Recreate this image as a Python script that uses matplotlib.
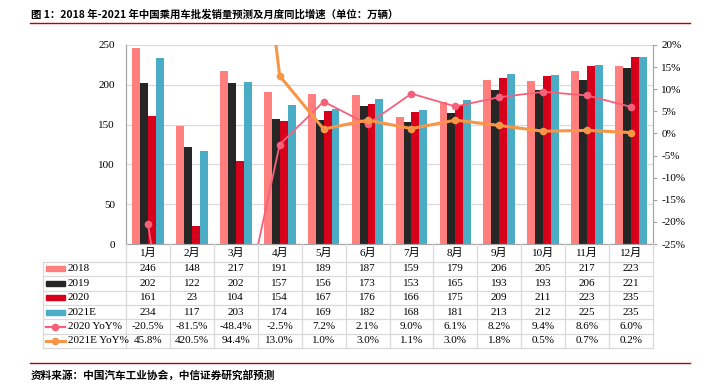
import matplotlib
matplotlib.use("Agg")
import matplotlib.pyplot as plt
import matplotlib.transforms as mtransforms
from matplotlib.lines import Line2D
from matplotlib.patches import Rectangle
import numpy as np

months = ["1月", "2月", "3月", "4月", "5月", "6月", "7月", "8月", "9月", "10月", "11月", "12月"]
sales_2018 = [246, 148, 217, 191, 189, 187, 159, 179, 206, 205, 217, 223]
sales_2019 = [202, 122, 202, 157, 156, 173, 153, 165, 193, 193, 206, 221]
sales_2020 = [161, 23, 104, 154, 167, 176, 166, 175, 209, 211, 223, 235]
sales_2021e = [234, 117, 203, 174, 169, 182, 168, 181, 213, 212, 225, 235]
yoy_2020 = [-20.5, -81.5, -48.4, -2.5, 7.2, 2.1, 9.0, 6.1, 8.2, 9.4, 8.6, 6.0]
yoy_2021e = [45.8, 420.5, 94.4, 13.0, 1.0, 3.0, 1.1, 3.0, 1.8, 0.5, 0.7, 0.2]

bar_names = ["2018", "2019", "2020", "2021E"]
bar_colors = ["#FF7F7F", "#262626", "#D7001B", "#4BACC6"]
line_names = ["2020 YoY%", "2021E YoY%"]
line_colors = ["#F8607A", "#F79646"]

W, H = 721, 387
fig = plt.figure(figsize=(W / 100, H / 100), dpi=100)

def fy(y):
    return 1 - y / H

def fx(x):
    return x / W

serif = ["Liberation Serif", "Noto Sans CJK SC"]
cjk = ["Noto Sans CJK SC", "DejaVu Sans"]

ax = fig.add_axes([fx(126), fy(244), fx(653) - fx(126), fy(45) - fy(244)])
x = np.arange(len(months))
bw = 0.18
all_bars = [sales_2018, sales_2019, sales_2020, sales_2021e]
for i, (vals, c) in enumerate(zip(all_bars, bar_colors)):
    ax.bar(x + (i - 1.5) * bw, vals, bw, color=c, zorder=2)

ax.set_xlim(-0.5, 11.5)
ax.set_ylim(0, 250)
ax.set_yticks(range(0, 251, 50))
ax.set_yticklabels([str(v) for v in range(0, 251, 50)], family=serif, fontsize=8)
ax.tick_params(axis="y", length=0, pad=8)
ax.set_xticks([])
ax.grid(axis="y", color="#D9D9D9", lw=0.8, zorder=0)
ax.spines["top"].set_visible(False)
for s in ["left", "bottom", "right"]:
    ax.spines[s].set_color("#A6A6A6")
    ax.spines[s].set_linewidth(0.8)

ax2 = ax.twinx()
ax2.plot(x, yoy_2020, color=line_colors[0], lw=1.3, marker="o", ms=4.5, zorder=3)
ax2.plot(x, yoy_2021e, color=line_colors[1], lw=2.2, marker="o", ms=4.5, zorder=4)
ax2.set_ylim(-25, 20)
ax2.set_yticks(range(-25, 21, 5))
ax2.set_yticklabels([f"{v}%" for v in range(-25, 21, 5)], family=serif, fontsize=8)
ax2.tick_params(axis="y", length=3, color="#A6A6A6", pad=3)
ax2.spines["top"].set_visible(False)
for s in ["left", "bottom", "right"]:
    ax2.spines[s].set_color("#A6A6A6")
    ax2.spines[s].set_linewidth(0.8)

# table under the chart
tr = mtransforms.blended_transform_factory(ax.transData, fig.transFigure)
grid_c = "#D9D9D9"
row_edges = [244, 261.7, 276, 290.5, 305, 319.3, 333.7, 348]
for j in range(len(months) + 1):
    fig.add_artist(Line2D([j - 0.5, j - 0.5], [fy(244), fy(348)], transform=tr, color=grid_c, lw=0.9))
fig.add_artist(Line2D([fx(43), fx(43)], [fy(261.7), fy(348)], transform=fig.transFigure, color=grid_c, lw=0.9))
for ye in row_edges[1:]:
    fig.add_artist(Line2D([fx(43), fx(653)], [fy(ye), fy(ye)], transform=fig.transFigure, color=grid_c, lw=0.9))

for j, m in enumerate(months):
    fig.text(j, fy((row_edges[0] + row_edges[1]) / 2), m, transform=tr, ha="center", va="center",
             family=serif, fontsize=8)

rows = all_bars + [[f"{v:.1f}%" for v in yoy_2020], [f"{v:.1f}%" for v in yoy_2021e]]
names = bar_names + line_names
for r, (name, vals) in enumerate(zip(names, rows)):
    yc = fy((row_edges[r + 1] + row_edges[r + 2]) / 2)
    for j, v in enumerate(vals):
        fig.text(j, yc, str(v), transform=tr, ha="center", va="center", family=serif, fontsize=8)
    if r < 4:
        fig.add_artist(Rectangle((fx(46), yc - 2.5 / H), fx(65) - fx(46), 5 / H,
                                 transform=fig.transFigure, color=bar_colors[r]))
    else:
        c = line_colors[r - 4]
        fig.add_artist(Line2D([fx(46), fx(65)], [yc, yc], transform=fig.transFigure, color=c,
                              lw=1.6 if r == 4 else 2.2))
        fig.add_artist(Line2D([fx(55.5)], [yc], transform=fig.transFigure, color=c,
                              marker="o", ms=4.5))
    fig.text(fx(67.5), yc, name, ha="left", va="center", family=serif, fontsize=8)

# title, rules and source
fig.text(fx(31), fy(14), "图 1：2018 年-2021 年中国乘用车批发销量预测及月度同比增速（单位：万辆）",
         ha="left", va="center", family=cjk, fontsize=7.5, fontweight="bold")
fig.add_artist(Line2D([fx(30), fx(690)], [fy(22.5), fy(22.5)], transform=fig.transFigure,
                      color="#C00000", lw=1.0))
fig.add_artist(Line2D([fx(30), fx(690)], [fy(363), fy(363)], transform=fig.transFigure,
                      color="#C00000", lw=1.0))
fig.text(fx(31), fy(375), "资料来源：中国汽车工业协会，中信证券研究部预测",
         ha="left", va="center", family=cjk, fontsize=7.7, fontweight="bold")

fig.savefig("out.png", dpi=100)
